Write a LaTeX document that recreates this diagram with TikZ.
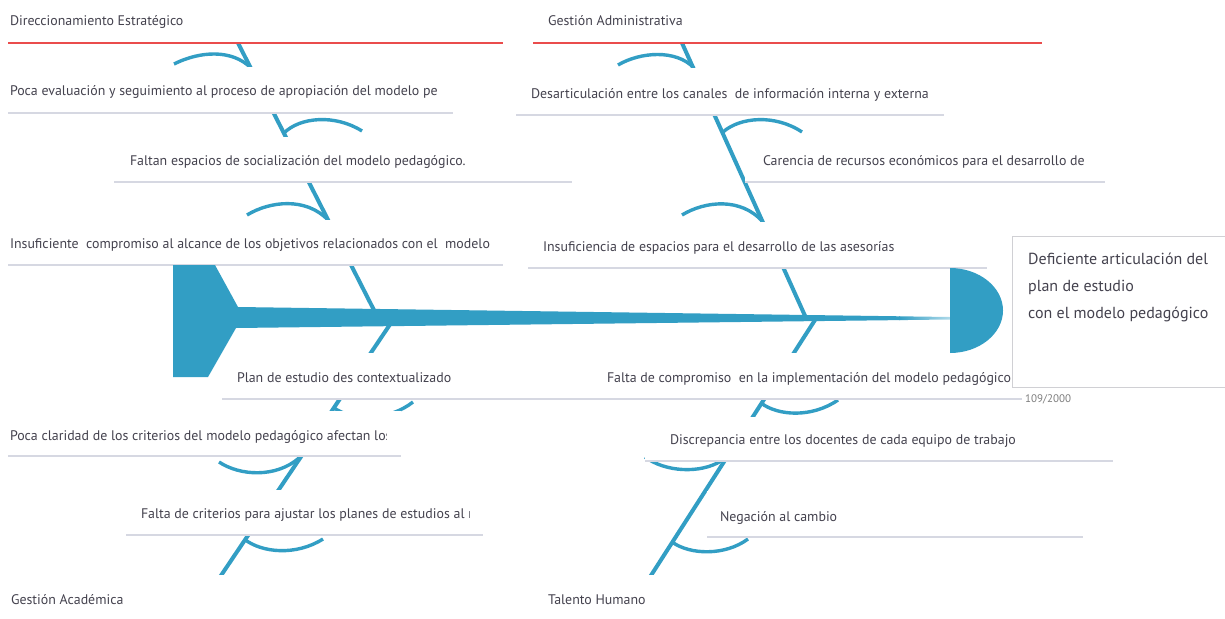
\documentclass[tikz,border=0pt]{standalone}
\usepackage{fontspec}
\setmainfont{PT Sans}
\definecolor{fish}{RGB}{50,158,196}
\definecolor{fishlight}{RGB}{175,218,234}
\definecolor{txt}{RGB}{68,66,78}
\definecolor{uline}{RGB}{214,216,226}
\definecolor{redl}{RGB}{234,76,76}
\definecolor{frame}{RGB}{208,208,212}
\definecolor{cnt}{RGB}{125,125,125}
\begin{document}
\begin{tikzpicture}[x=1pt,y=-1pt,
  bone/.style={draw=fish,line width=4pt},
  rib/.style={draw=fish,line width=3.4pt},
  cbox/.style={fill=white,draw=none,anchor=south west,inner sep=0pt,outer sep=0pt,minimum height=46pt},
  ul/.style={draw=uline,line width=1.2pt},
  rl/.style={draw=redl,line width=1.5pt},
  lbl/.style={anchor=base west,inner sep=0pt,outer sep=0pt,text=txt,font=\fontsize{13.9}{16}\selectfont},
]
\fill[white] (0,0) rectangle (1225,618);
\useasboundingbox (0,0) rectangle (1225,618);

% bones
\coordinate (ulA) at (238,43);  \coordinate (ulB) at (378,318);
\coordinate (urA) at (682,43);  \coordinate (urB) at (806,318);
\coordinate (llA) at (393,320); \coordinate (llB) at (220,577);
\coordinate (lrA) at (815,320); \coordinate (lrB) at (650,577);
\draw[bone] (ulA) -- (ulB);
\draw[bone] (urA) -- (urB);
\draw[bone] (llA) -- (llB);
\draw[bone] (lrA) -- (lrB);

% ribs (sub-cause arcs)
\draw[rib] (174,64) .. controls (200,51) and (232,49) .. (251,68);
\draw[rib] (284,133) .. controls (300,117) and (335,114) .. (362,131);
\draw[rib] (247,215) .. controls (270,201) and (306,197) .. (328,220);
\draw[rib] (618,65) .. controls (640,52) and (676,49) .. (694,68);
\draw[rib] (723,132) .. controls (740,117) and (775,114) .. (802,132);
\draw[rib] (682,215) .. controls (705,201) and (741,197) .. (763,222);
\draw[rib] (334,408) .. controls (355,422) and (390,420) .. (413,402);
\draw[rib] (219,462) .. controls (240,476) and (276,478) .. (299,458);
\draw[rib] (244,539) .. controls (262,553) and (296,556) .. (323,539);
\draw[rib] (761,403) .. controls (778,416) and (812,418) .. (838,400);
\draw[rib] (645,457) .. controls (665,472) and (700,474) .. (721,461);
\draw[rib] (672,542) .. controls (690,555) and (725,556) .. (748,539);

% category boxes
\node[cbox,minimum width=495pt,minimum height=43pt] (de) at (8,43) {};
\draw[rl] (de.south west) -- (de.south east);
\node[lbl] at (10,26) {Direccionamiento Estratégico};
\node[cbox,minimum width=509pt,minimum height=43pt] (ga) at (533,43) {};
\draw[rl] (ga.south west) -- (ga.south east);
\node[lbl] at (548,26) {Gestión Administrativa};
\node[cbox,minimum width=495pt,minimum height=43pt] (gac) at (8,618) {};
\node[lbl] at (11,604) {Gestión Académica};
\node[cbox,minimum width=509pt,minimum height=43pt] (th) at (533,618) {};
\node[lbl] at (548,604) {Talento Humano};

% cause boxes
\node[cbox,minimum width=445pt] (c1) at (8,113) {};
\draw[ul] (c1.south west) -- (c1.south east);
\node[lbl] at (10,95) {Poca evaluación y seguimiento al proceso de apropiación del modelo pe};

\node[cbox,minimum width=458pt,minimum height=45pt] (c2) at (114,182) {};
\draw[ul] (c2.south west) -- (c2.south east);
\node[lbl] at (130,165) {Faltan espacios de socialización del modelo pedagógico.};

\node[cbox,minimum width=495pt,minimum height=45pt] (c3) at (8,265) {};
\draw[ul] (c3.south west) -- (c3.south east);
\node[lbl] at (10,248) {Insuficiente\ \ compromiso al alcance de los objetivos relacionados con el\ \ modelo};

\node[cbox,minimum width=428pt,minimum height=47pt] (c4) at (516,115) {};
\draw[ul] (c4.south west) -- (c4.south east);
\node[lbl] at (531,98) {Desarticulación entre los canales\ \ de información interna y externa};

\node[cbox,minimum width=360pt] (c5) at (745,182) {};
\draw[ul] (c5.south west) -- (c5.south east);
\node[lbl] at (763,165) {Carencia de recursos económicos para el desarrollo de};

\node[cbox,minimum width=459pt] (c6) at (528,268) {};
\draw[ul] (c6.south west) -- (c6.south east);
\node[lbl] at (543,251) {Insuficiencia de espacios para el desarrollo de las asesorías};

\node[cbox,minimum width=428pt] (c7) at (222,399) {};
\draw[ul] (c7.south west) -- (c7.south east);
\node[lbl] at (237,382) {Plan de estudio des contextualizado};

\node[cbox,minimum width=432pt] (c8) at (590,399) {};
\draw[ul] (c8.south west) -- (c8.south east);
\node[lbl] at (607,382) {Falta de compromiso\ \ en la implementación del modelo pedagógico};

\node[cbox,minimum width=393pt,minimum height=45pt] (c9) at (8,456) {};
\draw[ul] (c9.south west) -- (c9.south east);
\begin{scope}
\clip (8,420) rectangle (386,456);
\node[lbl] at (10,440) {Poca claridad de los criterios del modelo pedagógico afectan los};
\end{scope}

\node[cbox,minimum width=468pt,minimum height=44pt] (c10) at (645,461) {};
\draw[ul] (c10.south west) -- (c10.south east);
\node[lbl] at (670,444) {Discrepancia entre los docentes de cada equipo de trabajo};

\node[cbox,minimum width=357pt,minimum height=45pt] (c11) at (126,535) {};
\draw[ul] (c11.south west) -- (c11.south east);
\begin{scope}
\clip (126,495) rectangle (469,535);
\node[lbl] at (141,518) {Falta de criterios para ajustar los planes de estudios al m};
\end{scope}

\node[cbox,minimum width=376pt] (c12) at (707,537) {};
\draw[ul] (c12.south west) -- (c12.south east);
\node[lbl] at (720,521) {Negación al cambio};

% spine, tail and head
\fill[fish] (173,265) -- (215,265) -- (238,307) -- (900,316.3) -- (900,320.1) -- (236,328) -- (208,377) -- (173,377) -- cycle;
\shade[left color=fish,right color=fishlight] (899,316.3) -- (950,317) -- (950,319.5) -- (899,320.1) -- cycle;
\fill[fish] (950,268) .. controls (979,268) and (1003,287) .. (1003,310.5) .. controls (1003,334) and (979,353) .. (950,353) -- cycle;

% effect box
\node[draw=frame,line width=1.3pt,anchor=north west,inner sep=0pt,minimum width=216pt,minimum height=151pt] (effect) at (1012,236) {};
\node[anchor=north west,inner sep=0pt,text=txt,align=left,font=\fontsize{16}{27}\selectfont] (efftext) at (1028,253) {Deficiente articulación del\\plan de estudio\\con el modelo pedagógico};
\node[anchor=base west,inner sep=0pt,text=cnt,font=\fontsize{11}{13}\selectfont] (count) at (1025,402) {109/2000};
\end{tikzpicture}
\end{document}
